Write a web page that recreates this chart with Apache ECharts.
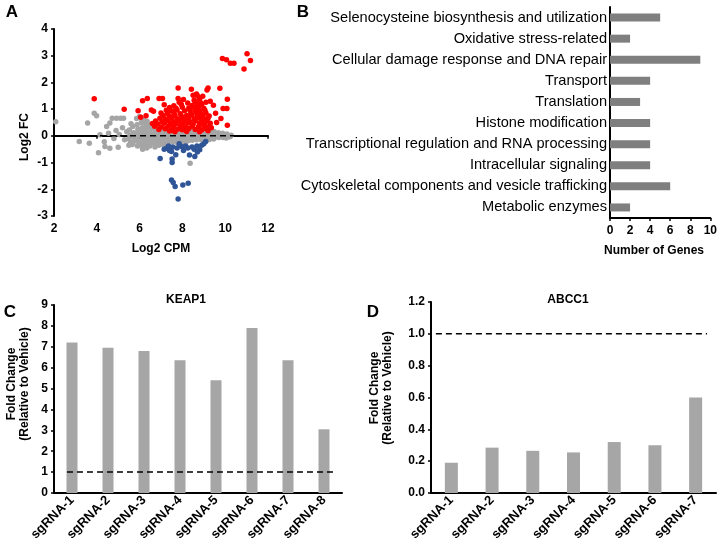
<!DOCTYPE html>
<html><head><meta charset="utf-8">
<script src="https://cdn.jsdelivr.net/npm/echarts@6/dist/echarts.min.js"></script>
<style>html,body{margin:0;padding:0;background:#fff}#c{width:720px;height:546px}</style>
</head><body><div id="c"></div>
<script>
const FONT = "'Liberation Sans', Arial, sans-serif";

// ---- Panel A data (Log2 CPM, Log2 FC) ----
const grayPts = [
[2.08,0.53],[3.18,-0.21],[3.65,-0.28],[3.57,0.48],[3.88,0.85],[3.99,0.75],[4.08,-0.63],[4.15,0.04],[4.38,-0.4],[4.35,-0.22],
[4.46,0.35],[4.55,0.1],[4.61,0.48],[4.72,0.66],[4.92,0.66],[5.11,0.66],[5.25,0.66],[5.0,-0.43],[4.61,-0.46],[4.8,-0.1],
[4.9,0.2],[5.05,0.05],[5.2,0.3],[5.3,-0.15],[5.4,0.15],[5.86,0.65],[6.0,0.72],[6.14,-0.5],[8.36,-1.03],[5.5,-0.35],[5.6,0.45],
[6.2,0.6],[6.35,0.55],
[5.52,0.22],[5.55,0.02],[5.5,-0.12],[5.58,-0.25],
[5.68,0.35],[5.72,0.12],[5.7,-0.05],[5.74,-0.2],[5.66,-0.32],
[5.88,0.42],[5.92,0.25],[5.9,0.08],[5.86,-0.08],[5.94,-0.22],[5.9,-0.38],
[6.08,0.5],[6.12,0.3],[6.1,0.15],[6.06,0.0],[6.14,-0.12],[6.1,-0.28],[6.12,-0.42],
[6.28,0.45],[6.32,0.33],[6.3,0.18],[6.26,0.05],[6.34,-0.08],[6.3,-0.2],[6.28,-0.35],[6.33,-0.45],
[6.48,0.42],[6.52,0.28],[6.5,0.12],[6.46,0.0],[6.54,-0.12],[6.5,-0.25],[6.48,-0.38],
[6.68,0.38],[6.72,0.22],[6.7,0.08],[6.66,-0.05],[6.74,-0.18],[6.7,-0.3],[6.72,-0.42],
[6.88,0.35],[6.92,0.2],[6.9,0.05],[6.86,-0.1],[6.94,-0.22],[6.9,-0.35],
[7.08,0.3],[7.12,0.18],[7.1,0.04],[7.06,-0.08],[7.14,-0.2],[7.1,-0.32],
[7.28,0.28],[7.32,0.15],[7.3,0.02],[7.26,-0.1],[7.34,-0.22],[7.3,-0.3],
[7.48,0.25],[7.52,0.12],[7.5,0.0],[7.46,-0.12],[7.54,-0.22],
[7.68,0.22],[7.72,0.1],[7.7,-0.02],[7.66,-0.14],[7.74,-0.25],
[7.88,0.2],[7.92,0.08],[7.9,-0.04],[7.86,-0.15],[7.94,-0.26],
[8.08,0.2],[8.12,0.08],[8.1,-0.05],[8.06,-0.15],[8.14,-0.25],
[8.28,0.18],[8.32,0.06],[8.3,-0.06],[8.26,-0.18],
[8.48,0.18],[8.52,0.06],[8.5,-0.05],[8.46,-0.16],
[8.68,0.16],[8.72,0.05],[8.7,-0.06],[8.66,-0.15],
[8.88,0.16],[8.92,0.05],[8.9,-0.05],[8.86,-0.14],
[9.08,0.15],[9.12,0.04],[9.1,-0.06],[9.06,-0.15],
[9.28,0.18],[9.32,0.06],[9.3,-0.05],[9.26,-0.14],
[9.48,0.16],[9.52,0.05],[9.5,-0.06],[9.46,-0.12],
[9.68,0.12],[9.72,0.03],[9.7,-0.06],
[9.88,0.1],[9.92,0.02],[9.9,-0.06],
[10.08,0.07],[10.12,-0.02],[10.05,-0.08],
[10.28,0.02],[10.22,-0.03]
];
const redPts = [
[3.88,1.39],[5.28,1.0],[5.93,0.94],[6.14,1.31],[6.36,1.4],[6.55,0.97],[6.65,0.92],[6.91,1.4],[7.07,1.4],[7.8,1.79],
[7.8,1.4],[8.42,1.74],[8.66,1.57],[9.15,1.72],[9.2,1.79],[9.75,1.78],[10.1,1.37],[10.08,1.02],[9.9,1.02],[10.1,0.4],
[9.87,2.9],[10.06,2.85],[10.24,2.72],[10.41,2.72],[10.88,2.5],[11.02,3.07],[11.18,2.82],[6.05,0.7],[6.3,0.75],[9.8,0.65],
[9.6,0.5],[9.55,0.85],[9.45,1.15],[9.3,1.3],[9.35,0.3],
[6.9,0.24],[7.2,0.27],[7.5,0.22],[7.8,0.26],[8.0,0.23],[8.3,0.28],[8.6,0.24],[8.9,0.22],[9.1,0.27],
[6.7,0.36],[7.0,0.33],[7.35,0.37],[7.6,0.34],[7.9,0.38],[8.15,0.33],[8.45,0.36],[8.75,0.34],[9.0,0.37],[9.25,0.33],
[6.6,0.46],[6.85,0.44],[7.15,0.47],[7.45,0.43],[7.7,0.46],[8.0,0.44],[8.25,0.48],[8.5,0.43],[8.8,0.46],[9.05,0.44],[9.3,0.47],
[6.75,0.56],[7.05,0.53],[7.3,0.57],[7.55,0.54],[7.85,0.56],[8.1,0.58],[8.35,0.53],[8.6,0.56],[8.9,0.54],[9.15,0.57],
[6.95,0.66],[7.2,0.63],[7.5,0.67],[7.75,0.64],[8.0,0.66],[8.3,0.68],[8.55,0.63],[8.8,0.66],[9.0,0.64],[9.2,0.67],
[7.1,0.76],[7.4,0.73],[7.65,0.77],[7.95,0.74],[8.2,0.76],[8.45,0.78],[8.7,0.73],[8.95,0.76],[9.25,0.74],
[7.0,0.86],[7.3,0.84],[7.6,0.87],[7.9,0.83],[8.4,0.86],[8.65,0.88],[8.85,0.84],[9.1,0.86],
[7.25,0.96],[7.5,0.93],[7.75,0.97],[8.1,0.94],[8.35,0.96],[8.6,0.98],[8.8,0.93],[9.05,0.96],
[7.4,1.06],[7.7,1.03],[8.0,1.07],[8.3,1.04],[8.55,1.06],[8.75,1.08],[9.0,1.03],
[7.15,1.16],[7.6,1.13],[7.95,1.17],[8.45,1.14],[8.7,1.16],[8.9,1.18],
[7.85,1.26],[8.25,1.23],[8.6,1.27],[8.85,1.24],[9.1,1.26],
[8.05,1.36],[8.55,1.33],[8.8,1.37],
[8.7,1.5],[8.95,1.48],[8.5,1.52],
[7.4,0.18],[8.2,0.16],[8.8,0.15],[9.2,0.19],[7.65,0.15]
];
const bluePts = [
[6.96,-0.85],[7.26,-0.46],[7.15,-0.5],[7.35,-0.38],[7.49,-0.59],[7.55,-0.42],[7.52,-1.0],[7.52,-0.87],[7.69,-0.71],[7.75,-0.45],
[7.96,-0.4],[8.05,-0.55],[8.15,-0.38],[8.25,-0.45],[8.33,-0.72],[8.45,-0.42],[8.58,-0.77],[8.55,-0.5],[8.68,-0.38],[8.81,-0.52],
[8.9,-0.35],[9.0,-0.3],[9.09,-0.21],[7.85,-0.3],[7.49,-1.65],[7.57,-1.75],[7.66,-1.9],[8.02,-1.84],[8.27,-1.77],[7.8,-2.36],
[7.4,-0.55],[8.7,-0.6]
];
const aZeroLine = [[2.28,0],[11.8,0]];

// ---- Panel B data ----
const bCategories = ['Selenocysteine biosynthesis and utilization','Oxidative stress-related','Cellular damage response and DNA repair','Transport','Translation','Histone modification','Transcriptional regulation and RNA processing','Intracellular signaling','Cytoskeletal components and vesicle trafficking','Metabolic enzymes'];
const bValues = [5,2,9,4,3,4,4,4,6,2];

// ---- Panel C data ----
const cCategories = ['sgRNA-1','sgRNA-2','sgRNA-3','sgRNA-4','sgRNA-5','sgRNA-6','sgRNA-7','sgRNA-8'];
const cValues = [7.2,6.95,6.8,6.35,5.4,7.9,6.35,3.05];
const cRefLine = [[0.36,1],[7.75,1]];

// ---- Panel D data ----
const dCategories = ['sgRNA-1','sgRNA-2','sgRNA-3','sgRNA-4','sgRNA-5','sgRNA-6','sgRNA-7'];
const dValues = [0.19,0.285,0.265,0.255,0.32,0.30,0.60];
const dRefLine = [[0.12,1],[6.78,1]];

const axLine = {show:true, lineStyle:{color:'#000', width:2}};
const axTick = {show:true, length:3, inside:false, lineStyle:{color:'#000', width:1.5}};
const axLabel = {color:'#000', fontWeight:'bold', fontSize:12, fontFamily:FONT, margin:6};
const catLabel = {color:'#000', fontWeight:'bold', fontSize:13, fontFamily:FONT, rotate:45, margin:5, interval:0};
const noSplit = {show:false};

function txt(x,y,s,opts){
  return {type:'text', x:x, y:y, style:Object.assign({text:s, fill:'#000', font:'bold 12px '+FONT, align:'center', verticalAlign:'middle'}, opts||{})};
}
function rtxt(x,y,s,size){
  return {type:'text', x:x, y:y, rotation:Math.PI/2, style:{text:s, fill:'#000', font:'bold '+size+'px '+FONT, align:'center', verticalAlign:'middle', lineHeight:size+1}};
}

const chart = echarts.init(document.getElementById('c'), null, {renderer:'canvas'});
chart.setOption({
  animation:false,
  backgroundColor:'#fff',
  grid:[
    {left:54, top:29, width:214, height:187},
    {left:610, top:7, width:102, height:211},
    {left:54, top:305, width:288, height:188},
    {left:431, top:302, width:285, height:191}
  ],
  xAxis:[
    {gridIndex:0, type:'value', min:2, max:12, interval:2, axisLine:axLine, axisTick:axTick, axisLabel:Object.assign({},axLabel,{margin:7}), splitLine:noSplit},
    {gridIndex:1, type:'value', min:0, max:10, interval:2, axisLine:axLine, axisTick:axTick, axisLabel:Object.assign({},axLabel,{margin:7}), splitLine:noSplit},
    {gridIndex:2, type:'category', data:cCategories, axisLine:axLine, axisTick:{show:false}, axisLabel:catLabel},
    {gridIndex:2, type:'value', min:0, max:8, show:false, splitLine:noSplit},
    {gridIndex:3, type:'category', data:dCategories, axisLine:axLine, axisTick:{show:false}, axisLabel:catLabel},
    {gridIndex:3, type:'value', min:0, max:7, show:false, splitLine:noSplit}
  ],
  yAxis:[
    {gridIndex:0, type:'value', min:-3, max:4, interval:1, axisLine:axLine, axisTick:axTick, axisLabel:axLabel, splitLine:noSplit},
    {gridIndex:1, type:'category', data:bCategories, inverse:true, axisLine:axLine, axisTick:{show:false}, axisLabel:{color:'#000', fontSize:14.6, fontFamily:FONT, margin:3, interval:0}},
    {gridIndex:2, type:'value', min:0, max:9, interval:1, axisLine:axLine, axisTick:axTick, axisLabel:axLabel, splitLine:noSplit},
    {gridIndex:3, type:'value', min:0, max:1.2, interval:0.2, axisLine:axLine, axisTick:axTick, axisLabel:Object.assign({},axLabel,{formatter:v=>v.toFixed(1)}), splitLine:noSplit}
  ],
  series:[
    {type:'scatter', xAxisIndex:0, yAxisIndex:0, data:grayPts, symbolSize:5.5, itemStyle:{color:'#a5a5a5', opacity:1}},
    {type:'scatter', xAxisIndex:0, yAxisIndex:0, data:bluePts, symbolSize:5.5, itemStyle:{color:'#2f5597', opacity:1}},
    {type:'scatter', xAxisIndex:0, yAxisIndex:0, data:redPts, symbolSize:5.5, itemStyle:{color:'#ff0000', opacity:1}},
    {type:'line', xAxisIndex:0, yAxisIndex:0, data:aZeroLine, symbol:'none', lineStyle:{color:'#000', width:1.5, type:[6,4]}, z:5},
    {type:'bar', xAxisIndex:1, yAxisIndex:1, data:bValues, barWidth:8, itemStyle:{color:'#7f7f7f'}},
    {type:'bar', xAxisIndex:2, yAxisIndex:2, data:cValues, barWidth:11, itemStyle:{color:'#a6a6a6'}},
    {type:'line', xAxisIndex:3, yAxisIndex:2, data:cRefLine, symbol:'none', lineStyle:{color:'#000', width:1.5, type:[6,4]}, z:5},
    {type:'bar', xAxisIndex:4, yAxisIndex:3, data:dValues, barWidth:13, itemStyle:{color:'#a6a6a6'}},
    {type:'line', xAxisIndex:5, yAxisIndex:3, data:dRefLine, symbol:'none', lineStyle:{color:'#000', width:1.5, type:[6,4]}, z:5}
  ],
  graphic:[
    txt(12,12,'A',{font:'bold 17px '+FONT}),
    txt(303,12,'B',{font:'bold 17px '+FONT}),
    txt(10,312,'C',{font:'bold 17px '+FONT}),
    txt(373,312,'D',{font:'bold 17px '+FONT}),
    rtxt(25,137,'Log2 FC',12),
    txt(161,249,'Log2 CPM'),
    txt(654,251,'Number of Genes'),
    txt(186,300,'KEAP1'),
    txt(568,300,'ABCC1'),
    rtxt(18,384,'Fold Change\n(Relative to Vehicle)',12),
    rtxt(381,388,'Fold Change\n(Relative to Vehicle)',12)
  ]
});
</script></body></html>
